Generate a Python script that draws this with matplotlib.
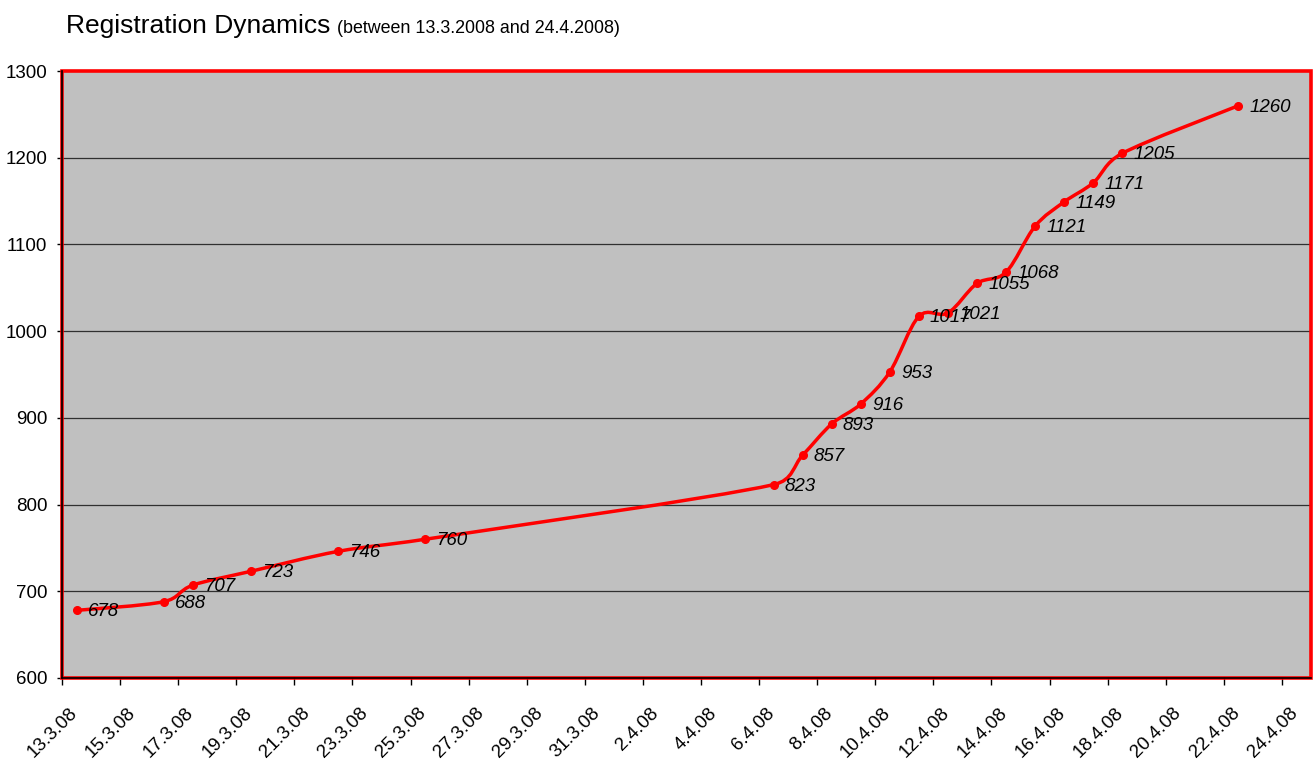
import numpy as np
import matplotlib.pyplot as plt
import matplotlib.dates as mdates
from matplotlib.path import Path
from matplotlib.patches import PathPatch, Rectangle
from matplotlib.transforms import ScaledTranslation
from datetime import datetime, timedelta

plt.rcParams['font.family'] = ['Liberation Sans', 'DejaVu Sans']

# data
dates = ['13.3.2008', '16.3.2008', '17.3.2008', '19.3.2008', '22.3.2008', '25.3.2008',
         '6.4.2008', '7.4.2008', '8.4.2008', '9.4.2008', '10.4.2008', '11.4.2008',
         '12.4.2008', '13.4.2008', '14.4.2008', '15.4.2008', '16.4.2008', '17.4.2008',
         '18.4.2008', '22.4.2008']
values = [678, 688, 707, 723, 746, 760,
          823, 857, 893, 916, 953, 1017,
          1021, 1055, 1068, 1121, 1149, 1171,
          1205, 1260]
y_ticks = [600, 700, 800, 900, 1000, 1100, 1200, 1300]

# punkty w srodku dnia (jak w Excelu)
x = mdates.date2num([datetime.strptime(d, '%d.%m.%Y') + timedelta(hours=12) for d in dates])

fig = plt.figure(figsize=(13.14, 7.59), dpi=100)
ax = fig.add_axes([62 / 1314, 1 - 678 / 759, (1311 - 62) / 1314, (678 - 71) / 759])
ax.set_facecolor('#C0C0C0')

x_start = mdates.date2num(datetime(2008, 3, 13))
x_end = mdates.date2num(datetime(2008, 4, 25))
ax.set_xlim(x_start, x_end)
ax.set_ylim(600, 1300)

# gladka linia - bezier liczony w pikselach, potem z powrotem do danych
pts = ax.transData.transform(np.column_stack([x, values]))
n = len(pts)
verts = [pts[0]]
codes = [Path.MOVETO]
for i in range(n - 1):
    p0 = pts[max(i - 1, 0)]
    p1 = pts[i]
    p2 = pts[i + 1]
    p3 = pts[min(i + 2, n - 1)]
    seg = np.linalg.norm(p2 - p1)
    t1 = (p2 - p0) / 6
    t2 = (p3 - p1) / 6
    if np.linalg.norm(t1) > seg / 2:
        t1 = t1 / np.linalg.norm(t1) * seg / 2
    if np.linalg.norm(t2) > seg / 2:
        t2 = t2 / np.linalg.norm(t2) * seg / 2
    verts += [p1 + t1, p2 - t2, p2]
    codes += [Path.CURVE4] * 3
verts = ax.transData.inverted().transform(np.array(verts))
ax.add_patch(PathPatch(Path(verts, codes), facecolor='none', edgecolor='#FF0000',
                       linewidth=2.5, zorder=3))
ax.plot(x, values, 'o', color='#FF0000', markersize=5.5, zorder=4)

for xi, v in zip(x, values):
    ax.annotate(str(v), (xi, v), xytext=(8, -1), textcoords='offset points',
                ha='left', va='center', fontsize=13.5, fontstyle='italic', zorder=5)

# siatka
for yv in y_ticks[1:-1]:
    ax.axhline(yv, color='#303030', linewidth=0.9, zorder=1)

# osie
ticks = [datetime(2008, 3, 13) + timedelta(days=2 * k) for k in range(22)]
ax.set_xticks(mdates.date2num(ticks))
ax.set_xticklabels([f'{t.day}.{t.month}.08' for t in ticks], rotation=45,
                   ha='right', va='top', rotation_mode='anchor')
ax.set_yticks(y_ticks)
ax.tick_params(axis='both', labelsize=13.5, direction='out', color='black')
ax.tick_params(axis='x', length=5, width=1, pad=14)
ax.tick_params(axis='y', length=3.6, width=1, pad=7)
shift = ScaledTranslation(5 / 72, 0, fig.dpi_scale_trans)
for lab in ax.get_xticklabels():
    lab.set_transform(lab.get_transform() + shift)

for s in ['top', 'right']:
    ax.spines[s].set_visible(False)
ax.spines['left'].set_color('black')
ax.spines['bottom'].set_color('black')
ax.spines['left'].set_linewidth(1.2)
ax.spines['bottom'].set_linewidth(1.2)
ax.spines['left'].set_zorder(7)
ax.spines['bottom'].set_zorder(7)
ax.add_patch(Rectangle((0, 0), 1, 1, transform=ax.transAxes, fill=False,
                       edgecolor='#FF0000', linewidth=2.6, clip_on=False, zorder=6))

fig.text(66 / 1314, 1 - 33 / 759, 'Registration Dynamics', fontsize=19, ha='left', va='baseline')
fig.text(337 / 1314, 1 - 33 / 759, '(between 13.3.2008 and 24.4.2008)', fontsize=12.9,
         ha='left', va='baseline')

plt.savefig('out.png', dpi=100)
